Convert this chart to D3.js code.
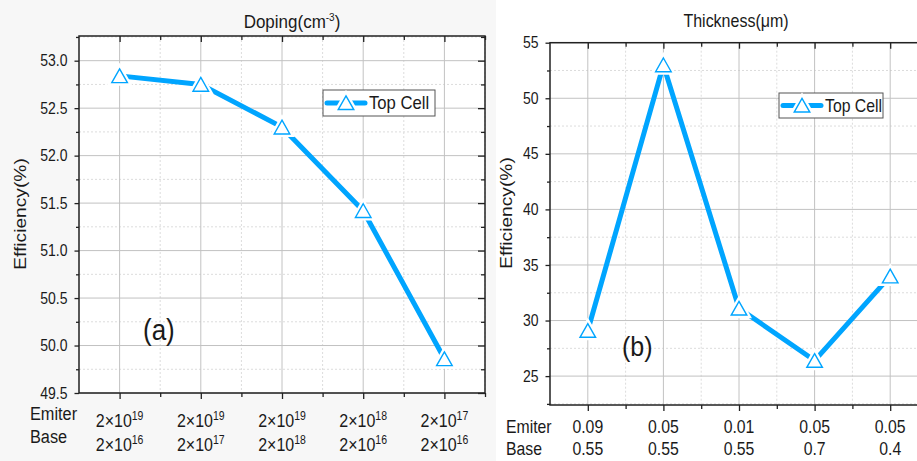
<!DOCTYPE html>
<html>
<head>
<meta charset="utf-8">
<script src="https://cdn.jsdelivr.net/npm/d3@7"></script>
<style>
  body { margin: 0; background: #fff; }
  svg { display: block; font-family: "Liberation Sans", Arial, sans-serif; }
</style>
</head>
<body>
<svg id="chart" width="917" height="461"></svg>
<script>
// panel (a): doping
const dopingEmitterExp = [19, 19, 19, 18, 17];
const dopingBaseExp = [16, 17, 18, 16, 16];
const dopingEff = [52.84, 52.75, 52.3, 51.42, 49.86];
const dopingTicks = [49.5, 50.0, 50.5, 51.0, 51.5, 52.0, 52.5, 53.0];

// panel (b): thickness
const thickEmitter = ["0.09", "0.05", "0.01", "0.05", "0.05"];
const thickBase = ["0.55", "0.55", "0.55", "0.7", "0.4"];
const thickEff = [29.1, 53.0, 31.1, 26.4, 34.0];
const thickTicks = [25, 30, 35, 40, 45, 50, 55];

const seriesName = "Top Cell";
const BLUE = "#00a5ff";
const STRETCH = 1.13;

const svg = d3.select("#chart");
svg.append("rect").attr("x", 0).attr("y", 0).attr("width", 496).attr("height", 461).attr("fill", "#f7f7f7");

function addText(g, x, y, str, size, anchor, rot) {
    let tr = `translate(${x},${y}) scale(1,${STRETCH})`;
    if (rot) tr += ` rotate(${rot})`;
    return g.append("text")
        .attr("transform", tr)
        .attr("font-size", size)
        .attr("text-anchor", anchor || "start")
        .attr("fill", "#1a1a1a")
        .text(str);
}

function drawPanel(p) {
    const g = svg.append("g");
    const idx = d3.range(1, p.values.length + 1);
    const x = d3.scaleLinear().domain([0.5, p.values.length + 0.5]).range([p.left, p.right]);
    const y = d3.scaleLinear().domain(p.yDomain).range([p.bottom, p.top]);
    const xMinor = d3.range(1.5, p.values.length + 0.6, 1);
    const yMinor = p.ticks.slice(0, -1).map((t, i) => (t + p.ticks[i + 1]) / 2)
        .concat(p.ticks[0] - p.step / 2 > p.yDomain[0] ? [p.ticks[0] - p.step / 2] : [])
        .concat(p.ticks[p.ticks.length - 1] + p.step / 2 < p.yDomain[1] ? [p.ticks[p.ticks.length - 1] + p.step / 2] : []);

    g.append("rect")
        .attr("x", p.left).attr("y", p.top)
        .attr("width", p.right - p.left).attr("height", p.bottom - p.top)
        .attr("fill", "#fff");

    // grid
    const grid = g.append("g");
    grid.selectAll(".gxm").data(xMinor).enter().append("line")
        .attr("x1", d => x(d)).attr("x2", d => x(d)).attr("y1", p.top).attr("y2", p.bottom)
        .attr("stroke", "#dcdcdc").attr("stroke-dasharray", "2,2");
    grid.selectAll(".gym").data(yMinor).enter().append("line")
        .attr("y1", d => y(d)).attr("y2", d => y(d)).attr("x1", p.left).attr("x2", p.right)
        .attr("stroke", "#dcdcdc").attr("stroke-dasharray", "2,2");
    grid.selectAll(".gx").data(idx).enter().append("line")
        .attr("x1", d => x(d)).attr("x2", d => x(d)).attr("y1", p.top).attr("y2", p.bottom)
        .attr("stroke", "#c2c2c2");
    grid.selectAll(".gy").data(p.ticks).enter().append("line")
        .attr("y1", d => y(d)).attr("y2", d => y(d)).attr("x1", p.left).attr("x2", p.right)
        .attr("stroke", "#c2c2c2");

    // axes
    const axisStyle = a => {
        a.select(".domain").remove();
        a.selectAll("line").attr("stroke", "#222").attr("stroke-width", 1.3);
    };
    g.append("g").attr("transform", `translate(${p.left},0)`)
        .call(d3.axisLeft(y).tickValues(yMinor).tickSize(3).tickFormat(""))
        .call(axisStyle);
    const yAx = g.append("g").attr("transform", `translate(${p.left},0)`)
        .call(d3.axisLeft(y).tickValues(p.ticks).tickSize(4.5).tickPadding(7).tickFormat(p.fmt))
        .call(axisStyle);
    yAx.selectAll("text")
        .attr("font-size", 14).attr("fill", "#1a1a1a")
        .attr("font-family", "Liberation Sans, Arial, sans-serif")
        .attr("transform", `scale(1,${STRETCH})`);
    g.append("g").attr("transform", `translate(${p.right},0)`)
        .call(d3.axisLeft(y).tickValues(p.ticks).tickSize(7).tickFormat(""))
        .call(axisStyle);
    g.append("g").attr("transform", `translate(${p.right},0)`)
        .call(d3.axisLeft(y).tickValues(yMinor).tickSize(4).tickFormat(""))
        .call(axisStyle);
    g.append("g").attr("transform", `translate(0,${p.bottom})`)
        .call(d3.axisBottom(x).tickValues(idx).tickSize(6).tickFormat(""))
        .call(axisStyle);
    g.append("g").attr("transform", `translate(0,${p.bottom})`)
        .call(d3.axisBottom(x).tickValues(xMinor).tickSize(4).tickFormat(""))
        .call(axisStyle);
    g.append("g").attr("transform", `translate(0,${p.top})`)
        .call(d3.axisBottom(x).tickValues(idx).tickSize(6).tickFormat(""))
        .call(axisStyle);
    g.append("g").attr("transform", `translate(0,${p.top})`)
        .call(d3.axisBottom(x).tickValues(xMinor).tickSize(4).tickFormat(""))
        .call(axisStyle);

    // frame
    g.append("rect")
        .attr("x", p.left).attr("y", p.top)
        .attr("width", p.right - p.left).attr("height", p.bottom - p.top)
        .attr("fill", "none").attr("stroke", "#222").attr("stroke-width", 1.5);

    // series
    const line = d3.line().x((d, i) => x(i + 1)).y(d => y(d));
    g.append("path").datum(p.values)
        .attr("d", line)
        .attr("fill", "none").attr("stroke", BLUE)
        .attr("stroke-width", 5).attr("stroke-linecap", "round").attr("stroke-linejoin", "round");
    const tri = d3.symbol().type(d3.symbolTriangle).size(105);
    const mk = g.selectAll(".mk").data(p.values).enter().append("g")
        .attr("transform", (d, i) => `translate(${x(i + 1)},${y(d) + 2.2}) scale(1,${STRETCH * 0.9})`);
    mk.append("path").attr("d", tri).attr("fill", "#fff").attr("stroke", "#fff").attr("stroke-width", 6);
    mk.append("path").attr("d", tri).attr("fill", "#fff").attr("stroke", BLUE).attr("stroke-width", 1.4);

    // legend
    const lg = p.legend;
    g.append("rect").attr("x", lg.x).attr("y", lg.y).attr("width", lg.w).attr("height", lg.h)
        .attr("fill", "#fff").attr("stroke", "#555").attr("stroke-width", 1);
    const cy = lg.y + lg.h / 2;
    g.append("line").attr("x1", lg.x + 4).attr("x2", lg.x + 42).attr("y1", cy).attr("y2", cy)
        .attr("stroke", BLUE).attr("stroke-width", 5).attr("stroke-linecap", "round");
    const lm = g.append("g").attr("transform", `translate(${lg.x + 23},${cy + 2}) scale(1,${STRETCH * 0.9})`);
    lm.append("path").attr("d", tri).attr("fill", "#fff").attr("stroke", "#fff").attr("stroke-width", 6);
    lm.append("path").attr("d", tri).attr("fill", "#fff").attr("stroke", BLUE).attr("stroke-width", 1.4);
    addText(g, lg.x + 46, cy + 6, seriesName, lg.fs);

    // titles and labels
    const t = addText(g, p.title.x, p.title.y, p.title.text, p.title.fs, "middle");
    if (p.title.sup) {
        t.append("tspan").attr("dy", -6).attr("font-size", 10).text(p.title.sup);
        t.append("tspan").attr("dy", 6).text(")");
    }
    addText(g, p.ylab.x, p.ylab.y, "Efficiency(%)", 17, "middle", -90);
    addText(g, p.letter.x, p.letter.y, p.letter.text, p.letter.fs);

    addText(g, p.rowLab.x, p.rowLab.y1, "Emiter", p.rowLab.fs);
    addText(g, p.rowLab.x, p.rowLab.y2, "Base", p.rowLab.fs);
    idx.forEach((d, i) => {
        [[p.row1[i], p.rows.y1], [p.row2[i], p.rows.y2]].forEach(([lab, yy]) => {
            const tx = addText(g, x(d), yy, "", p.rows.fs, "middle");
            if (typeof lab === "number") {
                tx.append("tspan").text("2×10");
                tx.append("tspan").attr("dy", -6.5).attr("font-size", 10.5).text(lab);
            } else {
                tx.text(lab);
            }
        });
    });
}

drawPanel({
    values: dopingEff, ticks: dopingTicks, step: 0.5, yDomain: [49.5, 53.26],
    fmt: d3.format(".1f"),
    left: 79, right: 485, top: 36, bottom: 393,
    title: { text: "Doping(cm", sup: "-3", x: 292, y: 28, fs: 17 },
    ylab: { x: 26, y: 214 },
    letter: { text: "(a)", x: 143, y: 340, fs: 26 },
    legend: { x: 323, y: 90, w: 112, h: 26, fs: 16.7 },
    rowLab: { x: 30, y1: 420, y2: 443, fs: 16.3 },
    rows: { y1: 427, y2: 451, fs: 16 },
    row1: dopingEmitterExp, row2: dopingBaseExp
});

drawPanel({
    values: thickEff, ticks: thickTicks, step: 5, yDomain: [22.4, 55],
    fmt: d3.format("d"),
    left: 550, right: 928, top: 42.7, bottom: 405,
    title: { text: "Thickness(μm)", x: 736, y: 27, fs: 16 },
    ylab: { x: 512, y: 213 },
    letter: { text: "(b)", x: 622, y: 356, fs: 25 },
    legend: { x: 779, y: 93, w: 104, h: 25, fs: 15.8 },
    rowLab: { x: 506, y1: 433, y2: 455, fs: 15.8 },
    rows: { y1: 433, y2: 455, fs: 15.8 },
    row1: thickEmitter, row2: thickBase
});
</script>
</body>
</html>
